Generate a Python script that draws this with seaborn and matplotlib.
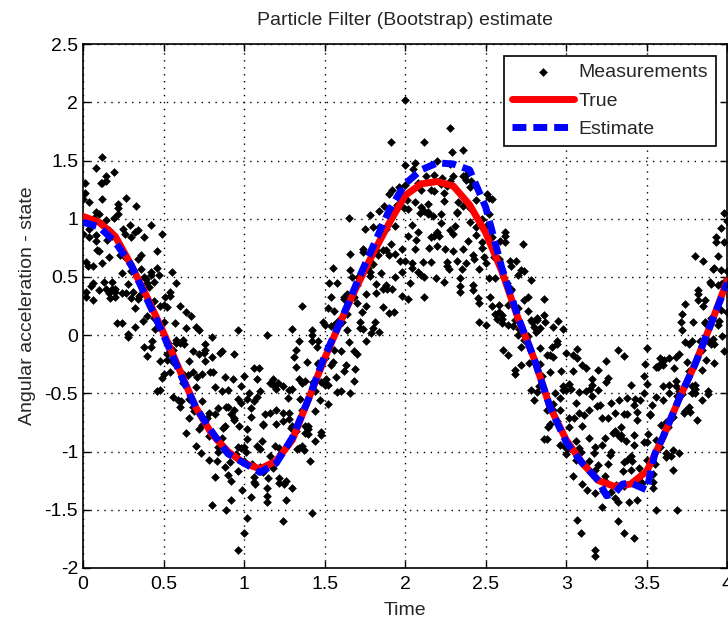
import numpy as np
import pandas as pd
import matplotlib
matplotlib.use("Agg")
import matplotlib.pyplot as plt
import seaborn as sns

# true state
t_true = [0.0, 0.1, 0.2, 0.3, 0.4, 0.5, 0.6, 0.7, 0.8, 0.9, 1.0, 1.1, 1.2, 1.3,
          1.4, 1.5, 1.6, 1.7, 1.8, 1.9, 2.0, 2.1, 2.2, 2.3, 2.4, 2.5, 2.6, 2.7,
          2.8, 2.9, 3.0, 3.1, 3.2, 3.3, 3.4, 3.5, 3.6, 3.7, 3.8, 3.9, 4.0]
true_vals = [1.02, 0.97, 0.85, 0.6, 0.32, 0.02, -0.3, -0.62, -0.85, -1.0, -1.1,
             -1.15, -1.08, -0.9, -0.55, -0.2, 0.12, 0.42, 0.7, 0.96, 1.2, 1.3,
             1.32, 1.28, 1.12, 0.88, 0.55, 0.15, -0.2, -0.62, -0.9, -1.1, -1.25,
             -1.3, -1.28, -1.17, -0.88, -0.55, -0.25, 0.1, 0.47]

# particle filter estimate (blue dashed)
t_est = [0.0, 0.1, 0.2, 0.3, 0.4, 0.5, 0.6, 0.7, 0.8, 0.9, 1.0, 1.1, 1.2, 1.3,
         1.4, 1.5, 1.6, 1.7, 1.8, 1.9, 2.0, 2.1, 2.2, 2.3, 2.4, 2.5, 2.6, 2.7,
         2.8, 2.9, 3.0, 3.1, 3.2, 3.25, 3.3, 3.35, 3.4, 3.45, 3.5, 3.55, 3.6,
         3.7, 3.8, 3.9, 4.0]
est_vals = [0.97, 0.93, 0.8, 0.6, 0.3, 0.0, -0.32, -0.62, -0.83, -1.02, -1.1,
            -1.18, -1.1, -0.88, -0.55, -0.18, 0.12, 0.45, 0.76, 1.07, 1.3, 1.42,
            1.48, 1.47, 1.42, 1.1, 0.58, 0.16, -0.2, -0.62, -0.92, -1.1, -1.25,
            -1.38, -1.36, -1.28, -1.27, -1.3, -1.33, -1.02, -0.88, -0.55, -0.25,
            0.1, 0.45]

# measurements: three readings every 0.02 s, one more in between
meas_t = np.round(np.arange(0, 4.001, 0.02), 2)
meas_t2 = np.round(np.arange(0.01, 4.0, 0.02), 2)
meas_a = [1.17, 0.63, 0.84, 0.30, 1.06, 0.72, 1.31, 0.40, 0.90, 0.46,
          0.40, 1.09, 0.10, 0.68, 0.44, 0.84, 0.07, 0.65, 0.35, 0.84,
          0.45, -0.10, 0.46, 0.58, -0.47, 0.11, -0.16, 0.34, -0.53, -0.04,
          -0.62, -0.04, 0.20, -0.55, -0.32, -0.95, -0.16, -0.57, -0.13, -0.87,
          -0.02, -0.68, -0.96, -0.48, -1.13, -0.62, -1.42, -0.71, -0.55, -0.97,
          -0.96, -0.55, -0.70, -1.22, -0.38, -1.13, -0.77, -1.43, -1.04, -0.43,
          -0.46, -0.97, -0.74, -1.25, -0.47, -0.78, -0.13, -0.97, -0.41, -0.78,
          -0.78, 0.00, -0.91, -0.24, -0.40, 0.09, -0.59, 0.08, -0.13, 0.45,
          0.15, -0.31, 0.35, 0.56, -0.39, 0.28, 0.11, 0.71, -0.05, 0.54,
          0.06, 0.73, 1.07, 0.40, 0.73, 0.19, 1.05, 0.70, 1.22, 0.54,
          1.46, 0.85, 0.62, 1.14, 0.54, 1.10, 0.33, 1.06, 1.25, 0.85,
          0.89, 1.30, 1.15, 0.63, 1.47, 0.72, 1.05, 0.37, 0.74, 1.33,
          1.27, 0.69, 0.86, 0.28, 1.00, 0.62, 1.18, 0.25, 0.72, 0.26,
          0.17, 0.85, -0.17, 0.40, 0.13, 0.52, -0.26, 0.30, -0.01, 0.47,
          0.07, -0.49, 0.06, 0.17, -0.89, -0.32, -0.59, -0.08, -0.94, -0.44,
          -1.02, -0.42, -0.17, -0.91, -0.67, -1.28, -0.48, -0.88, -0.43, -1.16,
          -0.30, -0.94, -1.21, -0.71, -1.35, -0.82, -1.60, -0.86, -0.68, -1.07,
          -1.04, -0.60, -0.73, -1.21, -0.35, -1.07, -0.69, -1.31, -0.90, -0.25,
          -0.26, -0.75, -0.50, -0.99, -0.19, -0.48, 0.18, -0.65, -0.08, -0.44,
          -0.43, 0.35, -0.56, 0.11, -0.05, 0.44, -0.24, 0.43, 0.22, 0.80,
          0.55]
meas_b = [0.87, 0.33, 1.14, 0.59, 0.81, 0.39, 1.17, 0.99, 0.36, 0.85,
          0.37, 1.04, 0.53, 0.87, 0.01, 0.55, 0.23, 0.90, 0.57, -0.10,
          0.16, 0.52, 0.29, -0.48, 0.25, -0.33, 0.24, -0.32, -0.13, 0.45,
          0.25, -0.41, -0.84, -0.22, -0.62, 0.07, -0.81, -0.33, -0.22, -0.67,
          -0.84, -0.45, -1.00, -0.14, -0.78, -0.47, -1.25, -0.73, -0.96, -0.44,
          -0.35, -0.89, -0.63, -1.26, -0.53, -0.98, -0.76, -1.38, -0.41, -1.14,
          -0.76, -1.27, -0.44, -0.96, -0.72, -1.31, -0.27, -0.38, -0.95, -0.39,
          -0.81, -0.05, -0.48, -0.05, -0.83, -0.20, -0.43, 0.33, 0.09, -0.49,
          -0.14, 0.31, 0.18, -0.50, 0.33, -0.16, 0.51, 0.05, 0.35, 1.03,
          0.93, 0.36, 0.03, 0.73, 0.43, 1.21, 0.40, 0.94, 1.13, 0.74,
          0.64, 1.08, 0.58, 1.48, 0.89, 1.25, 0.50, 1.04, 0.84, 1.38,
          1.50, 0.96, 1.22, 0.59, 1.32, 0.87, 1.06, 0.42, 1.37, 0.62,
          0.97, 0.39, 1.16, 0.57, 0.75, 0.09, 1.04, 0.84, 0.18, 0.65,
          0.14, 0.80, 0.26, 0.59, -0.30, 0.23, -0.10, 0.55, 0.21, -0.47,
          -0.22, 0.13, -0.11, -0.89, -0.17, -0.76, -0.19, -0.74, -0.54, 0.05,
          -0.15, -0.79, -1.21, -0.58, -0.97, -0.26, -1.13, -0.64, -0.52, -0.96,
          -1.12, -0.71, -1.25, -0.37, -1.00, -0.67, -1.43, -0.88, -1.09, -0.54,
          -0.43, -0.94, -0.66, -1.25, -0.50, -0.92, -0.68, -1.26, -0.27, -0.96,
          -0.56, -1.05, -0.20, -0.70, -0.44, -1.01, 0.04, -0.06, -0.62, -0.05,
          -0.46, 0.30, -0.13, 0.30, -0.48, 0.15, -0.08, 0.68, 0.44, -0.14,
          0.98]
meas_c = [0.99, 0.37, 0.91, 0.45, 0.86, 1.04, 0.62, 1.32, 0.67, 0.40,
          0.33, 1.13, 0.36, 0.67, -0.02, 0.32, 0.89, 0.31, 0.69, 0.50,
          -0.18, 0.54, 0.15, 0.72, -0.22, 0.26, -0.21, 0.37, -0.23, -0.07,
          -0.07, -0.33, 0.06, -0.71, -0.14, -0.45, 0.04, -0.77, -0.08, -1.07,
          -0.19, -1.22, -0.63, -0.88, -0.36, -1.20, -0.68, -0.64, -1.17, -0.58,
          -1.08, -0.81, -1.39, -0.57, -0.95, -0.48, -1.18, -1.31, -0.67, -0.38,
          -0.64, -1.23, -0.67, -1.42, -0.67, -0.46, -0.82, -0.05, -0.64, -0.84,
          -0.85, 0.04, -0.65, -0.25, -0.86, -0.43, 0.23, -0.26, 0.21, 0.11,
          -0.48, 0.33, 0.04, 0.70, -0.14, 0.43, 0.06, 0.74, 0.25, 0.51,
          0.61, 0.44, 0.93, 0.24, 0.91, 0.69, 1.25, 0.50, 1.27, 0.34,
          1.29, 0.31, 0.95, 0.74, 1.31, 0.52, 1.07, 1.13, 0.63, 1.24,
          0.77, 1.04, 0.46, 1.28, 0.90, 1.37, 0.64, 0.49, 1.11, 1.38,
          1.09, 0.43, 0.93, 0.11, 0.80, 0.94, 0.49, 1.17, 0.49, 0.20,
          0.10, 0.89, 0.09, 0.39, -0.33, 0.00, 0.56, -0.04, 0.33, 0.13,
          -0.56, 0.15, -0.25, 0.31, -0.64, -0.17, -0.64, -0.05, -0.64, -0.47,
          -0.47, -0.71, -0.31, -1.07, -0.49, -0.78, -0.28, -1.08, -0.38, -1.36,
          -0.47, -1.48, -0.88, -1.11, -0.58, -1.40, -0.86, -0.79, -1.30, -0.68,
          -1.16, -0.86, -1.42, -0.56, -0.92, -0.42, -1.10, -1.19, -0.53, -0.20,
          -0.44, -1.01, -0.43, -1.16, -0.39, -0.16, -0.51, 0.27, -0.31, -0.50,
          -0.50, 0.39, -0.30, 0.10, -0.51, -0.08, 0.58, 0.09, 0.56, 0.46,
          0.20]
meas_d = [1.22, 0.59, 0.42, 1.01, 0.73, 1.31, 0.46, 0.82, 0.32, 1.01,
          0.10, 0.69, 0.91, 0.36, 0.95, 0.37, 1.11, 0.34, 0.12, 0.48,
          0.41, -0.05, 0.05, 0.52, -0.37, 0.33, -0.07, 0.54, 0.10, -0.56,
          -0.57, -0.08, -0.34, 0.16, -0.65, -0.36, -1.01, -0.15, -0.71, -0.32,
          -0.32, -1.08, -0.15, -0.80, -0.62, -1.09, -0.38, -1.02, -0.78, -1.33,
          -1.00, -0.50, -1.11, -1.28, -0.28, -0.91, -0.68, -1.23, -0.41, -0.95,
          -0.41, -1.01, -1.28, -0.54, -0.80, -0.19, -0.98, -0.55, -0.99, -0.23,
          -1.08, -0.40, -0.10, -0.56, 0.11, -0.38, 0.45, -0.23, -0.36, 0.09,
          0.11, -0.26, -0.06, 0.50, -0.29, 0.50, 0.20, 0.91, 0.58, 0.02,
          0.11, 0.69, 0.53, 1.11, 0.40, 0.78, 0.20, 1.12, 0.64, 1.09,
          1.16, 0.45, 1.43, 0.82, 1.05, 0.63, 1.37, 0.75, 1.02, 0.49,
          0.85, 1.35, 0.74, 0.57, 1.57, 0.94, 1.14, 0.57, 1.37, 0.81,
          1.32, 0.65, 0.32, 0.99, 0.67, 1.21, 0.33, 0.67, 0.14, 0.81,
          -0.13, 0.45, 0.64, 0.08, 0.64, 0.05, 0.78, -0.01, -0.24, 0.11,
          0.03, -0.44, -0.35, 0.11, -0.79, -0.10, -0.50, 0.12, -0.31, -0.96,
          -0.97, -0.46, -0.71, -0.20, -1.00, -0.69, -1.33, -0.46, -1.01, -0.61,
          -0.60, -1.34, -0.40, -1.03, -0.84, -1.29, -0.56, -1.17, -0.91, -1.43,
          -1.08, -0.55, -1.14, -1.27, -0.25, -0.85, -0.60, -1.11, -0.27, -0.77,
          -0.21, -0.79, -1.04, -0.28, -0.52, 0.11, -0.67, -0.23, -0.66, 0.11,
          -0.73, -0.05, 0.25, -0.21, 0.46, -0.03, 0.80, 0.12, -0.01, 0.44]

# stray measurements far from the cloud
extra_t = [0.01, 0.08, 0.12, 0.14, 0.19, 0.27, 0.42, 0.49, 0.8, 0.89, 0.94, 0.96,
           0.96, 1.0, 1.02, 1.06, 1.14, 1.24, 1.3, 1.36, 1.42, 1.55, 1.65, 1.91,
           2.0, 2.12, 2.28, 2.36, 2.92, 3.07, 3.07, 3.09, 3.18, 3.18, 3.25, 3.32,
           3.36, 3.36, 3.42, 3.5, 3.56, 3.69, 3.8, 3.85, 3.91, 3.93, 3.96, 3.98]
extra_y = [1.31, 1.44, 1.53, 1.37, 1.40, 1.18, 0.95, 0.87, -1.46, -1.50, -0.16,
           0.04, -1.85, -1.70, -1.57, -0.28, 0.00, -1.60, 0.05, 0.25, -1.53, 0.58,
           1.01, 1.66, 2.02, 1.66, 1.78, 1.59, 0.07, -0.12, -1.59, -1.70, -1.85,
           -1.90, -0.22, -0.13, -0.18, -1.70, -1.74, -0.11, -1.50, -1.50, 0.68,
           0.64, 0.57, 0.84, 0.92, 1.05]

#%%
df_meas = pd.DataFrame({
    'Time': np.concatenate([meas_t, meas_t, meas_t, meas_t2, extra_t]),
    'y': np.concatenate([meas_a, meas_b, meas_c, meas_d, extra_y]),
})
df_true = pd.DataFrame({'Time': t_true, 'y': true_vals})
df_est = pd.DataFrame({'Time': t_est, 'y': est_vals})

sns.set_style('ticks')
plt.rcParams['font.family'] = ['Liberation Sans', 'DejaVu Sans']
fs = 14

fig = plt.figure(figsize=(7.28, 6.22), dpi=100)
ax = fig.add_axes([0.114, 0.087, 0.885, 0.842])

sns.scatterplot(data=df_meas, x='Time', y='y', marker='D', s=16, color='black',
                edgecolor='black', linewidth=0.4, label='Measurements', ax=ax,
                zorder=2)
sns.lineplot(data=df_true, x='Time', y='y', color='red', linewidth=5,
             label='True', ax=ax, zorder=3)
sns.lineplot(data=df_est, x='Time', y='y', color='blue', linewidth=5,
             linestyle=(0, (2, 1)), label='Estimate', ax=ax, zorder=4)

ax.set_xlim(0, 4)
ax.set_ylim(-2, 2.5)
ax.set_xticks(np.arange(0, 4.01, 0.5))
ax.set_yticks(np.arange(-2, 2.51, 0.5))
ax.set_xticklabels(['%g' % v for v in np.arange(0, 4.01, 0.5)])
ax.set_yticklabels(['%g' % v for v in np.arange(-2, 2.51, 0.5)])
ax.tick_params(direction='in', top=True, right=True, length=5, width=1,
               labelsize=fs, color='black', labelcolor='black')
ax.tick_params(axis='x', pad=6)
ax.grid(True, color='black', linestyle=(0, (1, 4)), linewidth=1)
ax.set_axisbelow(True)
for sp in ax.spines.values():
    sp.set_color('black')
    sp.set_linewidth(1.2)

ax.set_title('Particle Filter (Bootstrap) estimate', fontsize=fs, pad=14)
ax.set_xlabel('Time', fontsize=fs, labelpad=6)
ax.set_ylabel('Angular acceleration - state', fontsize=fs, labelpad=6)

leg = ax.legend(loc='upper right', fontsize=fs, frameon=True, fancybox=False,
                edgecolor='black', framealpha=1, handlelength=3.2,
                handletextpad=0.2, labelspacing=0.55, borderaxespad=0.6,
                markerscale=1.0)
leg.get_frame().set_linewidth(1.2)

fig.savefig('out.png', dpi=100)
